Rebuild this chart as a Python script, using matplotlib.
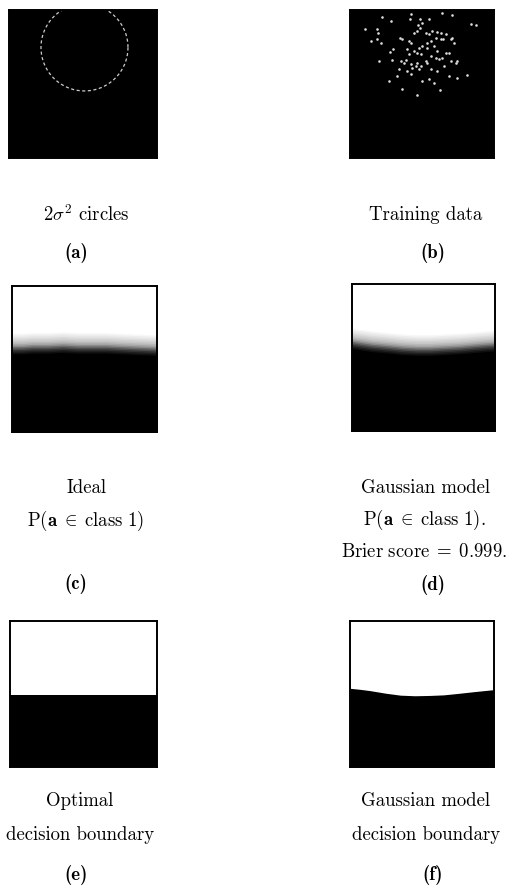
import matplotlib
matplotlib.use("Agg")
import matplotlib.pyplot as plt
import numpy as np

plt.rcParams["font.family"] = "serif"
plt.rcParams["font.serif"] = ["cmr10", "DejaVu Serif"]
plt.rcParams["mathtext.fontset"] = "cm"
plt.rcParams["axes.formatter.use_mathtext"] = True

W, H = 508, 895

###############################################################################
# Data (panel coordinates: 0..100 across, 0 at top, 100 at bottom)
###############################################################################
# (a) 2 sigma^2 circle
circle_cx, circle_cy, circle_r = 51.0, 25.3, 29.4

# (b) training points
train_x = [10.4, 19.0, 22.0, 28.7, 41.7, 42.1, 48.4, 49.8, 47.5, 54.9, 64.1, 70.6, 83.8, 87.3,
           19.4, 18.5, 14.8, 21.8, 34.7, 36.3, 41.0, 42.1, 44.4, 46.8, 48.6, 52.5, 54.9, 57.2,
           60.6, 63.0, 66.4, 71.1, 72.2, 63.0, 64.8, 69.9, 27.8, 30.1, 39.8, 44.4, 46.3, 47.9,
           50.2, 53.7, 58.3, 60.6, 66.4, 68.8, 20.1, 29.4, 35.2, 37.5, 38.7, 42.1, 46.8, 49.1,
           52.5, 53.7, 56.0, 59.5, 61.8, 64.1, 69.9, 73.4, 74.5, 34.0, 39.8, 43.3, 45.6, 47.9,
           56.0, 60.6, 65.3, 68.8, 74.5, 81.5, 27.1, 32.9, 42.1, 50.2, 54.9, 58.3, 36.3, 46.8,
           62.3, 41.0, 49.1, 56.0, 59.5, 53.7]
train_y = [12.6, 12.6, 4.5, 7.4, 5.9, 2.9, 5.9, 8.6, 10.4, 6.3, 2.3, 3.4, 9.2, 10.4,
           15.3, 19.4, 20.9, 22.5, 18.7, 19.8, 20.9, 22.1, 15.3, 14.2, 11.9, 15.3, 16.4, 14.2,
           14.9, 15.3, 16.4, 18.7, 22.1, 19.8, 19.8, 19.8, 28.4, 26.6, 26.6, 27.7, 28.8, 25.5,
           24.3, 25.5, 24.3, 27.7, 28.8, 28.8, 34.5, 34.0, 34.5, 35.6, 33.8, 36.7, 35.6, 37.8,
           34.5, 35.6, 31.1, 32.2, 33.3, 32.2, 34.5, 35.6, 34.5, 40.1, 41.2, 39.0, 37.8, 40.1,
           40.1, 41.2, 37.8, 44.6, 45.7, 44.1, 48.0, 44.6, 43.4, 48.0, 46.8, 49.1, 53.2, 57.7,
           54.3, 30.0, 30.0, 21.0, 18.7, 22.1]

# boundary heights sampled across each panel
bound_x = [0, 7, 14, 25, 35, 45, 55, 65, 75, 87, 100]
ideal_bound = [40.5, 40.5, 40, 40, 39.5, 40, 40, 40, 40.5, 41, 41.5]        # (c)
gauss_bound = [38, 39, 40, 41, 42, 42.5, 42.5, 42, 41.5, 40.5, 39.5]         # (d)
optimal_bound = [51, 51, 51, 51, 51, 51, 51, 51, 51, 51, 51]                  # (e)
model_bound = [46.1, 46.8, 47.7, 49.5, 50.8, 51.2, 51.0, 50.6, 49.6, 48.3, 47.0]  # (f)

# grey profile across the soft band (offset from boundary, grey level)
band_offset = [-8, -7, -6, -5, -4, -3, -2, -1, 0, 1, 2, 3, 4, 5, 6]
band_grey = [0.97, 0.93, 0.9, 0.86, 0.82, 0.78, 0.72, 0.65, 0.55, 0.42, 0.3, 0.2, 0.12, 0.06, 0.0]

###############################################################################
# Layout (pixel boxes x0, y0, x1, y1)
###############################################################################
boxes = {
    "a": (9, 11, 157, 159),
    "b": (350, 11, 494, 159),
    "c": (12, 287, 157, 433),
    "d": (352, 285, 495, 432),
    "e": (10, 622, 157, 768),
    "f": (350, 622, 494, 768),
}

fig = plt.figure(figsize=(W / 100, H / 100), dpi=100)


def make_ax(key):
    x0, y0, x1, y1 = boxes[key]
    ax = fig.add_axes([x0 / W, 1 - y1 / H, (x1 - x0) / W, (y1 - y0) / H])
    ax.set_xlim(0, 100)
    ax.set_ylim(100, 0)
    ax.set_xticks([])
    ax.set_yticks([])
    for s in ax.spines.values():
        s.set_linewidth(1.4)
        s.set_color("black")
    return ax


def soft_panel(ax, bound):
    bx = np.array(bound_x, dtype=float)
    bb = np.array(bound, dtype=float)
    ax.set_facecolor("white")
    # layers from light to dark, each filled down to the bottom
    for off, g in zip(band_offset, band_grey):
        ax.fill_between(bx, bb + off, 100, color=str(g), lw=0)


def hard_panel(ax, bound):
    ax.set_facecolor("white")
    ax.fill_between(bound_x, bound, 100, color="black", lw=0)


# (a)
ax = make_ax("a")
ax.set_facecolor("black")
t = np.linspace(0, 2 * np.pi, 400)
ax.plot(circle_cx + circle_r * np.cos(t), circle_cy + circle_r * np.sin(t),
        color="#cccccc", lw=0.9, ls=(0, (2.5, 2)))

# (b)
ax = make_ax("b")
ax.set_facecolor("black")
ax.scatter(train_x, train_y, s=3.5, color="#dddddd", lw=0)

# (c) .. (f)
soft_panel(make_ax("c"), ideal_bound)
soft_panel(make_ax("d"), gauss_bound)
hard_panel(make_ax("e"), optimal_bound)
hard_panel(make_ax("f"), model_bound)

###############################################################################
# Captions
###############################################################################
fs = 13.5


def cap(x, y, s, bold=False, size=fs):
    kw = dict(ha="center", va="center", fontsize=size)
    if bold:
        kw["family"] = "cmb10"
    fig.text(x / W, 1 - y / H, s, **kw)


cap(86, 215, r"$2\sigma^2$ circles")
cap(76, 253, "(a)", bold=True)
cap(426, 215, "Training data")
cap(433, 253, "(b)", bold=True)

cap(87, 488, "Ideal")
cap(86, 521, r"P($\mathbf{a}\;\in\;\mathrm{class\ 1}$)")
cap(76, 584, "(c)", bold=True)
cap(426, 488, "Gaussian model")
cap(424, 520, r"P($\mathbf{a}\;\in\;\mathrm{class\ 1}$).")
cap(424, 552, r"$\mathrm{Brier\ score}\;=\;0.999.$")
cap(433, 585, "(d)", bold=True)

cap(80, 801, "Optimal")
cap(80, 835, "decision boundary")
cap(76, 875, "(e)", bold=True)
cap(426, 801, "Gaussian model")
cap(426, 835, "decision boundary")
cap(433, 875, "(f)", bold=True)

fig.savefig("out.png", dpi=100)
